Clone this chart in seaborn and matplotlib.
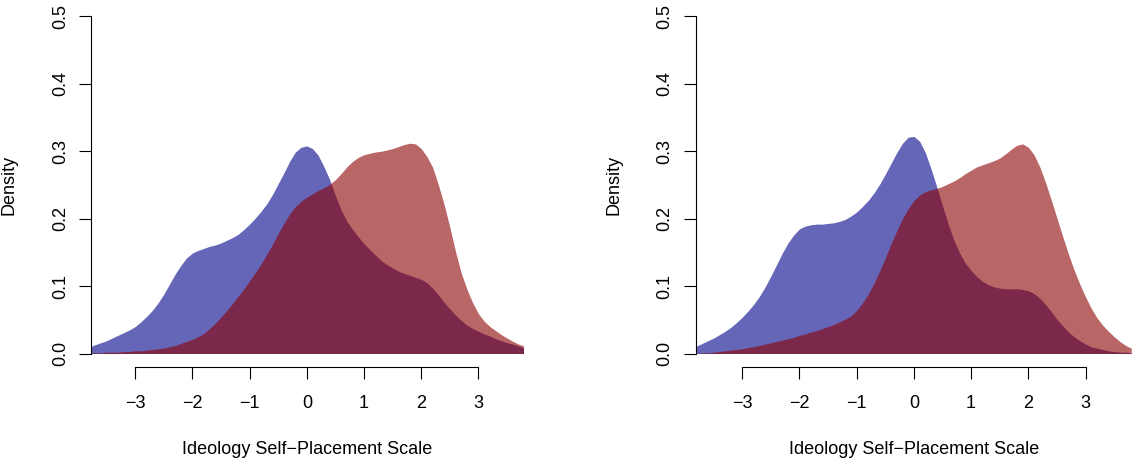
import matplotlib
matplotlib.use("Agg")
import matplotlib.pyplot as plt
import numpy as np
import pandas as pd
import seaborn as sns

# Ideology self-placement density estimates, two samples per panel,
# evaluated on a common grid from -3.8 to 3.8 in steps of 0.1
grid = [round(-3.8 + 0.1 * i, 1) for i in range(77)]

left_blue = [0.010, 0.013, 0.016, 0.019, 0.023, 0.027, 0.031, 0.035, 0.040, 0.047,
             0.055, 0.064, 0.075, 0.088, 0.103, 0.118, 0.131, 0.142, 0.149, 0.153,
             0.156, 0.159, 0.161, 0.164, 0.168, 0.172, 0.177, 0.184, 0.192, 0.201,
             0.211, 0.222, 0.236, 0.252, 0.268, 0.285, 0.299, 0.306, 0.308, 0.304,
             0.294, 0.277, 0.258, 0.234, 0.213, 0.196, 0.184, 0.173, 0.163, 0.154,
             0.146, 0.138, 0.132, 0.127, 0.122, 0.119, 0.116, 0.113, 0.110, 0.105,
             0.097, 0.087, 0.076, 0.066, 0.057, 0.049, 0.042, 0.037, 0.033, 0.029,
             0.026, 0.022, 0.019, 0.016, 0.014, 0.011, 0.008]
left_red = [0.001, 0.001, 0.001, 0.002, 0.002, 0.002, 0.003, 0.003, 0.004, 0.004,
            0.005, 0.006, 0.007, 0.008, 0.010, 0.012, 0.015, 0.018, 0.021, 0.025,
            0.030, 0.037, 0.045, 0.054, 0.064, 0.074, 0.085, 0.096, 0.108, 0.120,
            0.133, 0.147, 0.162, 0.178, 0.193, 0.207, 0.218, 0.226, 0.232, 0.237,
            0.242, 0.246, 0.251, 0.258, 0.267, 0.277, 0.285, 0.291, 0.295, 0.297,
            0.299, 0.300, 0.302, 0.304, 0.307, 0.310, 0.312, 0.311, 0.304, 0.292,
            0.276, 0.250, 0.221, 0.187, 0.151, 0.119, 0.095, 0.075, 0.059, 0.048,
            0.040, 0.034, 0.028, 0.023, 0.018, 0.014, 0.011]

right_blue = [0.011, 0.015, 0.019, 0.023, 0.028, 0.033, 0.039, 0.046, 0.054, 0.063,
              0.073, 0.085, 0.099, 0.115, 0.132, 0.149, 0.164, 0.176, 0.185, 0.189,
              0.191, 0.192, 0.192, 0.193, 0.194, 0.196, 0.199, 0.204, 0.210, 0.218,
              0.227, 0.238, 0.251, 0.266, 0.282, 0.298, 0.312, 0.321, 0.322, 0.315,
              0.298, 0.274, 0.247, 0.219, 0.192, 0.168, 0.149, 0.134, 0.123, 0.114,
              0.107, 0.102, 0.099, 0.097, 0.096, 0.096, 0.096, 0.095, 0.093, 0.089,
              0.082, 0.073, 0.062, 0.051, 0.041, 0.032, 0.025, 0.019, 0.014, 0.010,
              0.008, 0.006, 0.004, 0.003, 0.002, 0.002, 0.001]
right_red = [0.000, 0.001, 0.001, 0.002, 0.003, 0.004, 0.005, 0.006, 0.007, 0.009,
             0.010, 0.012, 0.014, 0.016, 0.018, 0.020, 0.022, 0.024, 0.027, 0.029,
             0.032, 0.034, 0.037, 0.040, 0.043, 0.047, 0.051, 0.056, 0.064, 0.075,
             0.088, 0.104, 0.122, 0.142, 0.163, 0.182, 0.200, 0.215, 0.227, 0.235,
             0.240, 0.243, 0.245, 0.248, 0.252, 0.256, 0.261, 0.267, 0.272, 0.277,
             0.280, 0.283, 0.286, 0.290, 0.296, 0.303, 0.309, 0.311, 0.306, 0.295,
             0.277, 0.254, 0.228, 0.201, 0.174, 0.148, 0.124, 0.103, 0.084, 0.067,
             0.053, 0.042, 0.033, 0.025, 0.018, 0.012, 0.008]

x_ticks = [-3, -2, -1, 0, 1, 2, 3]
x_tick_labels = ["\u22123", "\u22122", "\u22121", "0", "1", "2", "3"]
y_ticks = [0.0, 0.1, 0.2, 0.3, 0.4, 0.5]
y_tick_labels = ["0.0", "0.1", "0.2", "0.3", "0.4", "0.5"]

sns.set_theme(style="ticks")
plt.rcParams["font.family"] = ["Liberation Sans", "DejaVu Sans"]

BLUE = (0 / 255, 0 / 255, 139 / 255)
RED = (139 / 255, 0 / 255, 0 / 255)
ALPHA = 0.6
FS = 13

fig = plt.figure(figsize=(11.33, 4.61), dpi=100)
ax_l = fig.add_axes([0.0801, 0.2039, 0.3816, 0.7896])
ax_r = fig.add_axes([0.6140, 0.2039, 0.3860, 0.7896])


def draw_panel(ax, blue, red, xlim):
    df = pd.DataFrame({"x": grid * 2,
                       "density": blue + red,
                       "group": ["blue"] * len(grid) + ["red"] * len(grid)})
    for name, color in (("blue", BLUE), ("red", RED)):
        sub = df[df["group"] == name]
        sns.lineplot(data=sub, x="x", y="density", ax=ax, color=color,
                     linewidth=0, legend=False)
        ax.fill_between(sub["x"], 0, sub["density"], color=color,
                        alpha=ALPHA, linewidth=0)
    ax.set_xlim(*xlim)
    ax.set_ylim(-0.02, 0.52)
    ax.set_facecolor("white")
    for side in ("top", "right"):
        ax.spines[side].set_visible(False)
    for side in ("left", "bottom"):
        ax.spines[side].set_color("black")
        ax.spines[side].set_linewidth(0.8)
    ax.spines["left"].set_bounds(0.0, 0.5)
    ax.spines["bottom"].set_bounds(-3, 3)
    ax.set_xticks(x_ticks)
    ax.set_xticklabels(x_tick_labels, fontsize=FS)
    ax.set_yticks(y_ticks)
    ax.set_yticklabels(y_tick_labels, fontsize=FS, rotation=90, va="center")
    ax.tick_params(axis="x", length=8.3, width=0.8, color="black", pad=11.5,
                   labelcolor="black")
    ax.tick_params(axis="y", length=8.6, width=0.8, color="black", pad=7.2,
                   labelcolor="black")
    ax.set_xlabel("Ideology Self\u2212Placement Scale", fontsize=FS, labelpad=21,
                  color="black")
    ax.set_ylabel("Density", fontsize=FS, color="black")
    ax.grid(False)


draw_panel(ax_l, left_blue, left_red, (-3.776, 3.78))
draw_panel(ax_r, right_blue, right_red, (-3.815, 3.83))

# place the rotated "Density" labels by their right edge, in pixels from the axis
for ax in (ax_l, ax_r):
    width_px = ax.get_position().width * fig.get_figwidth() * fig.dpi
    ax.yaxis.set_label_coords(-73.0 / width_px, 0.5)

fig.savefig("out.png", dpi=100, facecolor="white")
